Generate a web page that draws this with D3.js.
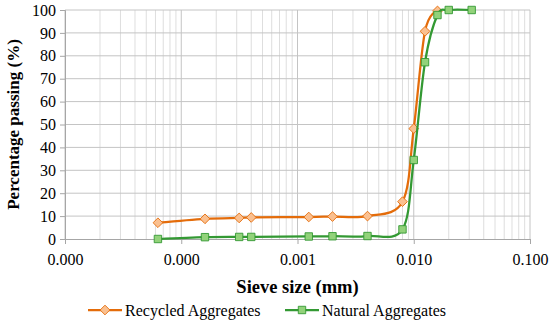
<!DOCTYPE html>
<html>
<head>
<meta charset="utf-8">
<script src="https://cdn.jsdelivr.net/npm/d3@7"></script>
<style>
  body { margin: 0; background: #fff; }
  svg text { font-family: "Liberation Serif", "DejaVu Serif", serif !important; }
</style>
</head>
<body>
<svg id="chart"></svg>
<script>
// sieve sizes as plotted (mm scale of the figure)
const recycledSize = [0.000063, 0.00016, 0.000315, 0.0004, 0.00125, 0.002, 0.004, 0.008, 0.01, 0.0125, 0.016];
const recycledPass = [7.1, 8.8, 9.2, 9.4, 9.6, 9.8, 10.0, 16.3, 48.2, 90.7, 99.6];

const naturalSize = [0.000063, 0.00016, 0.000315, 0.0004, 0.00125, 0.002, 0.004, 0.008, 0.01, 0.0125, 0.016, 0.02, 0.0315];
const naturalPass = [0, 0.8, 0.9, 0.9, 1.1, 1.2, 1.3, 4.2, 34.5, 77.2, 97.8, 100, 100];

const xTicks = [0.00001, 0.0001, 0.001, 0.01, 0.1];
const yTicks = [0, 10, 20, 30, 40, 50, 60, 70, 80, 90, 100];

const width = 550;
const height = 321;
const margin = { top: 10, right: 20, bottom: 82, left: 65 };
const serif = '"Liberation Serif", "DejaVu Serif", serif';

const svg = d3.select("#chart").attr("width", width).attr("height", height);
svg.append("rect").attr("width", width).attr("height", height).attr("fill", "#fff");

const x = d3.scaleLog().domain([0.00001, 0.1]).range([margin.left, width - margin.right]);
const y = d3.scaleLinear().domain([0, 100]).range([height - margin.bottom, margin.top]);

// minor log gridlines
const minor = [];
for (let i = 0; i < xTicks.length - 1; i++) {
  for (let k = 2; k <= 9; k++) minor.push(xTicks[i] * k);
}
svg.append("g")
  .selectAll("line")
  .data(minor)
  .join("line")
  .attr("x1", (d) => x(d)).attr("x2", (d) => x(d))
  .attr("y1", y(0)).attr("y2", y(100))
  .attr("stroke", "#DEDEDE").attr("stroke-width", 1);

// major gridlines
svg.append("g")
  .selectAll("line")
  .data(xTicks)
  .join("line")
  .attr("x1", (d) => x(d)).attr("x2", (d) => x(d))
  .attr("y1", y(0)).attr("y2", y(100))
  .attr("stroke", "#C4C4C4").attr("stroke-width", 1);

svg.append("g")
  .selectAll("line")
  .data(yTicks.slice(1))
  .join("line")
  .attr("x1", x(0.00001)).attr("x2", x(0.1))
  .attr("y1", (d) => y(d)).attr("y2", (d) => y(d))
  .attr("stroke", "#C4C4C4").attr("stroke-width", 1);

// axes
const yAxis = svg.append("g")
  .attr("transform", `translate(${margin.left},0)`)
  .call(d3.axisLeft(y).tickValues(yTicks).tickSize(5).tickPadding(4));
yAxis.attr("font-family", null).attr("font-size", null);
yAxis.select(".domain").attr("stroke", "#A6A6A6");
yAxis.selectAll(".tick line").attr("stroke", "#A6A6A6");
yAxis.selectAll("text")
  .style("font-family", serif).style("font-size", "16px").attr("fill", "#000");

const xAxis = svg.append("g")
  .attr("transform", `translate(0,${y(0)})`)
  .call(d3.axisBottom(x).tickValues(xTicks).tickFormat(d3.format(".3f")).tickSize(5).tickPadding(10));
xAxis.attr("font-family", null).attr("font-size", null);
xAxis.select(".domain").attr("stroke", "#A6A6A6");
xAxis.selectAll(".tick line").attr("stroke", "#A6A6A6");
xAxis.selectAll("text")
  .style("font-family", serif).style("font-size", "16px").attr("fill", "#000");

// axis titles
svg.append("text")
  .attr("x", (margin.left + width - margin.right) / 2)
  .attr("y", 293)
  .attr("text-anchor", "middle")
  .style("font-family", serif)
  .style("font-size", "18.5px").attr("font-weight", "bold")
  .text("Sieve size (mm)");

svg.append("text")
  .attr("transform", `translate(19,${(y(0) + y(100)) / 2}) rotate(-90)`)
  .attr("text-anchor", "middle")
  .style("font-family", serif)
  .style("font-size", "17px").attr("font-weight", "bold")
  .text("Percentage passing (%)");

const series = [
  { name: "Recycled Aggregates", sizes: recycledSize, values: recycledPass, line: "#E46C0A", fill: "#FAC090", symbol: d3.symbolDiamond2, symSize: 60 },
  { name: "Natural Aggregates", sizes: naturalSize, values: naturalPass, line: "#339933", fill: "#92D27A", symbol: d3.symbolSquare2, symSize: 70 },
];

const line = d3.line()
  .x((d) => x(d[0]))
  .y((d) => y(d[1]))
  .curve(d3.curveCardinal.tension(0));

series.forEach((s) => {
  const pts = s.sizes.map((v, i) => [v, s.values[i]]);
  const g = svg.append("g");
  g.append("path")
    .attr("d", line(pts))
    .attr("fill", "none")
    .attr("stroke", s.line)
    .attr("stroke-width", 2.25);
  g.selectAll("path.pt")
    .data(pts)
    .join("path")
    .attr("class", "pt")
    .attr("transform", (d) => `translate(${x(d[0])},${y(d[1])})`)
    .attr("d", d3.symbol(s.symbol, s.symSize)())
    .attr("fill", s.fill)
    .attr("stroke", s.line)
    .attr("stroke-width", 0.9);
});

// legend
const legendX = [88, 285];
series.forEach((s, i) => {
  const lg = svg.append("g").attr("transform", `translate(${legendX[i]},310)`);
  lg.append("line")
    .attr("x1", 0).attr("x2", 34)
    .attr("stroke", s.line).attr("stroke-width", 2.25);
  lg.append("path")
    .attr("transform", "translate(17,0)")
    .attr("d", d3.symbol(s.symbol, s.symSize)())
    .attr("fill", s.fill).attr("stroke", s.line).attr("stroke-width", 0.9);
  lg.append("text")
    .attr("x", 37).attr("dy", "0.35em")
    .style("font-family", serif)
    .style("font-size", "16px")
    .text(s.name);
});
</script>
</body>
</html>
